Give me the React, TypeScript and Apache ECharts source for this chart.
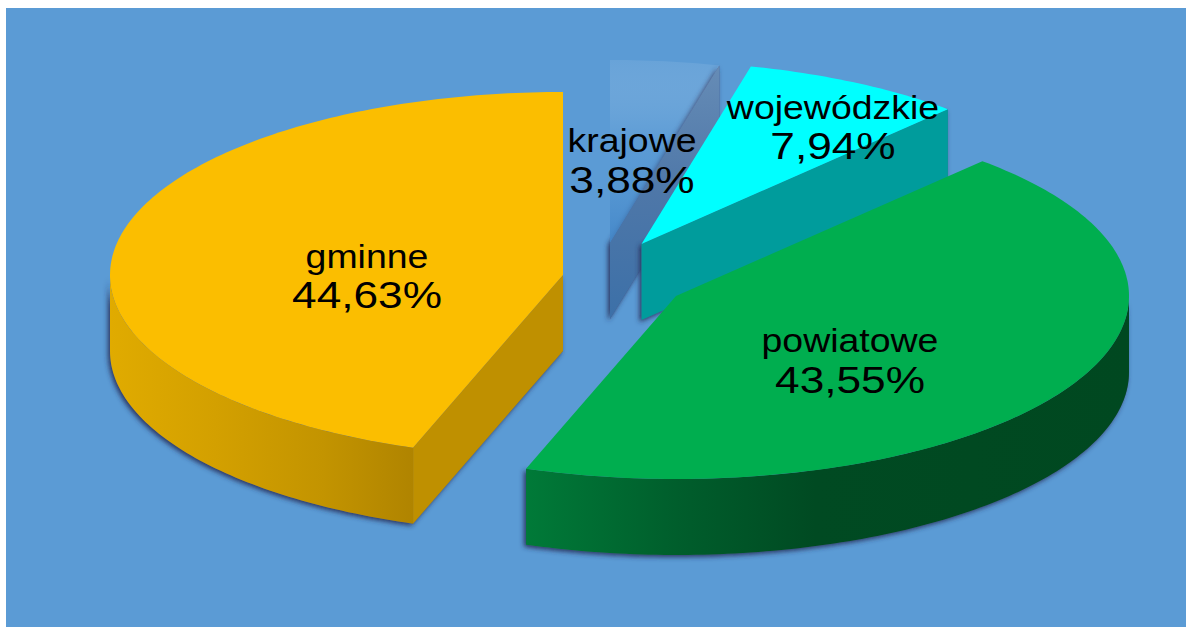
import React, { useEffect, useRef } from "react";
import * as echarts from "echarts";

const categories = ["krajowe", "wojewódzkie", "powiatowe", "gminne"];
const shares = [3.88, 7.94, 43.55, 44.63];

const RX = 453;
const RY = 183;
const DEPTH = 76;
const FONT = '"Liberation Sans", Arial, sans-serif';
const NAME_SIZE = 33;
const VALUE_SIZE = 37;
const NAME_STRETCH = 1.135;
const VALUE_STRETCH = 1.195;

const grad = (x0: number, y0: number, x1: number, y1: number, stops: [number, string][]) =>
  new echarts.graphic.LinearGradient(x0, y0, x1, y1, stops.map(([offset, color]) => ({ offset, color })));

const looks: any[] = [
  {
    apex: [610, 243],
    top: grad(0, 0, 0, 1, [[0, "rgba(255,255,255,0.08)"], [0.45, "rgba(91,155,213,0.3)"], [1, "rgba(66,134,200,0.9)"]]),
    cut: grad(0, 0, 0, 1, [[0, "#668cb6"], [0.5, "#4e77a8"], [1, "#3c70a8"]]),
    wall: "#3f72aa",
    label: [632, 151, 192],
  },
  {
    apex: [641.5, 244],
    top: "#00ffff",
    cut: "#009c9c",
    wall: "#009c9c",
    label: [833, 118, 158],
  },
  {
    apex: [676, 296],
    top: "#00ae4f",
    cut: "#00572a",
    wall: grad(0, 0, 1, 0, [[0, "#007a38"], [0.25, "#005e2c"], [0.48, "#004a22"], [1, "#004820"]]),
    label: [850, 351, 392],
  },
  {
    apex: [563, 275],
    top: "#fbbe00",
    cut: "#bf9000",
    wall: grad(0, 0, 1, 0, [[0, "#e0ab00"], [0.35, "#d3a000"], [0.7, "#c39400"], [1, "#b08400"]]),
    label: [367, 267, 307],
  },
];

const total = shares.reduce((s, v) => s + v, 0);
const sweeps = shares.map((v) => (v / total) * 360);
const starts = sweeps.map((_, i) => sweeps.slice(0, i).reduce((s, v) => s + v, 0));
const fmt = (v: number) => v.toFixed(2).replace(".", ",") + "%";

function renderSlice(params: any) {
  const i = params.dataIndex;
  const look = looks[i];
  const [cx, cy] = look.apex;
  const a1 = starts[i];
  const a2 = a1 + sweeps[i];
  const pt = (deg: number, dz = 0): number[] => {
    const r = (deg * Math.PI) / 180;
    return [cx + RX * Math.sin(r), cy - RY * Math.cos(r) + dz];
  };
  const arc = (from: number, to: number, dz = 0): number[][] => {
    const out: number[][] = [];
    const n = Math.max(2, Math.ceil(Math.abs(to - from)));
    for (let k = 0; k <= n; k++) out.push(pt(from + ((to - from) * k) / n, dz));
    return out;
  };
  const faces: number[][][] = [];
  const fills: any[] = [];

  const sin1 = Math.sin((a1 * Math.PI) / 180);
  const sin2 = Math.sin((a2 * Math.PI) / 180);
  if (sin1 < -1e-6) {
    faces.push([pt(a1), [cx, cy], [cx, cy + DEPTH], pt(a1, DEPTH)]);
    fills.push(look.cut);
  }
  if (sin2 > 1e-6) {
    faces.push([pt(a2), [cx, cy], [cx, cy + DEPTH], pt(a2, DEPTH)]);
    fills.push(look.cut);
  }
  const w1 = Math.max(a1, 90);
  const w2 = Math.min(a2, 270);
  if (w2 > w1) {
    faces.push([...arc(w1, w2), ...arc(w2, w1, DEPTH)]);
    fills.push(look.wall);
  }
  const children: any[] = [];
  faces.forEach((points) => {
    children.push({
      type: "polygon",
      shape: { points },
      style: { fill: "#4a5a8c", shadowBlur: 5, shadowColor: "rgba(40,45,90,0.95)", shadowOffsetX: -2, shadowOffsetY: 2 },
    });
  });
  faces.forEach((points, k) => {
    children.push({ type: "polygon", shape: { points }, style: { fill: fills[k] } });
  });
  children.push({
    type: "polygon",
    shape: { points: [[cx, cy], ...arc(a1, a2)] },
    style: { fill: look.top },
  });
  return { type: "group", children };
}

function renderLabels(params: any, api: any) {
  const i = params.dataIndex;
  const [x, nameY, valueY] = looks[i].label;
  const base = { fill: "#000", fontFamily: FONT, align: "center", verticalAlign: "bottom" };
  return {
    type: "group",
    children: [
      { type: "text", x, y: nameY + 6, scaleX: NAME_STRETCH, style: { ...base, text: categories[i], fontSize: NAME_SIZE } },
      { type: "text", x, y: valueY + 7, scaleX: VALUE_STRETCH, style: { ...base, text: fmt(api.value(0)), fontSize: VALUE_SIZE } },
    ],
  };
}

export default function App() {
  const ref = useRef<HTMLDivElement>(null);
  useEffect(() => {
    document.body.style.margin = "0";
    const chart = echarts.init(ref.current!, undefined, { renderer: "svg" });
    chart.setOption({
      animation: false,
      backgroundColor: "#ffffff",
      graphic: [
        { type: "rect", z: -1, shape: { x: 6, y: 8, width: 1180, height: 619 }, style: { fill: "#5b9bd5" } },
      ],
      series: [
        { type: "custom", coordinateSystem: "none", z: 2, renderItem: renderSlice, data: shares, silent: true },
        { type: "custom", coordinateSystem: "none", z: 3, renderItem: renderLabels, data: shares, silent: true },
      ],
    });
    return () => chart.dispose();
  }, []);
  return <div ref={ref} style={{ width: 1186, height: 627 }} />;
}
